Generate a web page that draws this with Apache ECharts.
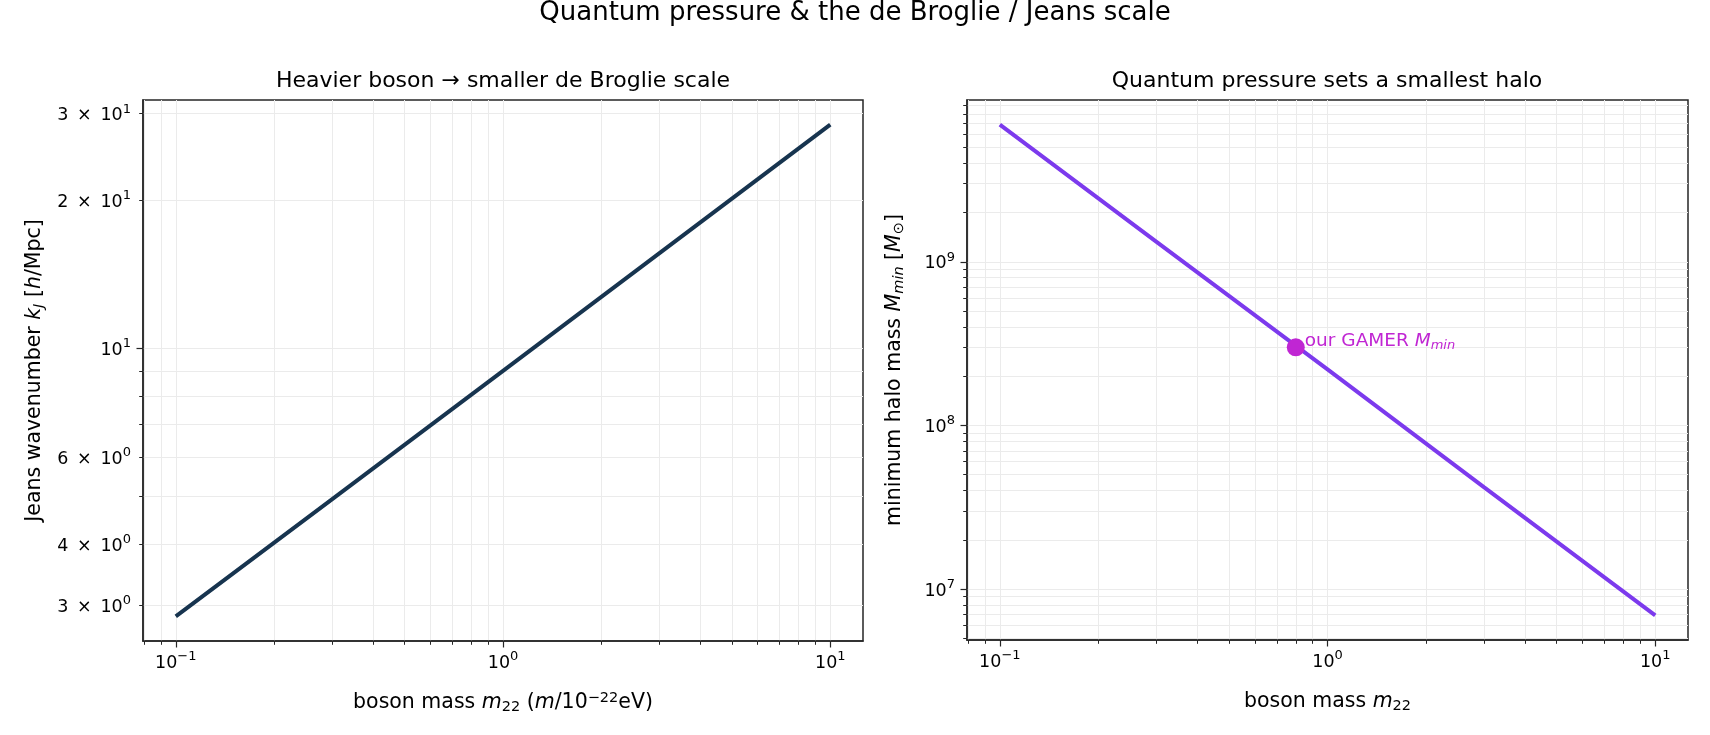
<!DOCTYPE html>
<html>
<head>
<meta charset="utf-8">
<script src="https://cdn.jsdelivr.net/npm/echarts@6/dist/echarts.min.js"></script>
<style>
html, body { margin: 0; padding: 0; background: #fff; }
#main { width: 1710px; height: 735px; }
</style>
</head>
<body>
<div id="main"></div>
<script>
// values
var massLeft = [0.1, 0.3, 1, 3, 10];
var kJeans = [2.85, 4.93, 9.0, 15.6, 28.5];
var massRight = [0.1, 0.3, 1, 3, 10];
var haloMin = [6.9e9, 1.33e9, 2.2e8, 4.2e7, 6.9e6];
var gamerPoint = [0.8, 3.0e8];

// ticks
var xMajor = [0.1, 1, 10];
var xMinor = [0.08, 0.09, 0.2, 0.3, 0.4, 0.5, 0.6, 0.7, 0.8, 0.9, 2, 3, 4, 5, 6, 7, 8, 9];
var kMajor = [10];
var kMinor = [3, 4, 5, 6, 7, 8, 9, 20, 30];
var kLabels = [3, 4, 6, 10, 20, 30];
var haloMajor = [1e7, 1e8, 1e9];
var haloMinor = [5e6, 6e6, 7e6, 8e6, 9e6, 2e7, 3e7, 4e7, 5e7, 6e7, 7e7, 8e7, 9e7,
  2e8, 3e8, 4e8, 5e8, 6e8, 7e8, 8e8, 9e8, 2e9, 3e9, 4e9, 5e9, 6e9, 7e9, 8e9, 9e9];

var FONT = 'DejaVu Sans';
var INK = '#262626';
var GRIDC = '#ebebeb';

var dom = document.getElementById('main');
var myChart = echarts.init(dom);

function expo(e) {
  return e < 0 ? '\u2212' + (-e) : '' + e;
}
function logLabel(v) {
  var e = Math.floor(Math.log10(v) + 1e-9);
  var m = Math.round(v / Math.pow(10, e));
  if (m === 1) return '{b|10}{s|' + expo(e) + '}';
  return '{b|' + m + '\u2002\u00d7\u200210}{s|' + expo(e) + '}';
}

var tickRich = {
  b: { fontFamily: FONT, fontSize: 17.5, color: '#000', lineHeight: 22, verticalAlign: 'bottom' },
  s: { fontFamily: FONT, fontSize: 13, color: '#000', lineHeight: 22, verticalAlign: 'top', padding: [0, 0, 6, 0] }
};
var nameRich = {
  n: { fontFamily: FONT, fontSize: 20.5, color: '#000' },
  i: { fontFamily: FONT, fontSize: 20.5, color: '#000', fontStyle: 'italic' },
  sub: { fontFamily: FONT, fontSize: 14.5, color: '#000', fontStyle: 'italic', verticalAlign: 'bottom', padding: [9, 0, 0, 0] },
  subn: { fontFamily: FONT, fontSize: 14.5, color: '#000', verticalAlign: 'bottom', padding: [9, 0, 0, 0] },
  sup: { fontFamily: FONT, fontSize: 14.5, color: '#000', verticalAlign: 'top', padding: [0, 0, 9, 0] }
};

function majorAxis(grid, min, max, major, labels, name, gap, isY) {
  return {
    type: 'log', logBase: 10, gridIndex: grid, min: min, max: max,
    position: isY ? 'left' : 'bottom',
    name: name, nameLocation: 'middle', nameGap: gap, nameRotate: isY ? 90 : 0,
    nameTextStyle: { rich: nameRich },
    axisLine: { show: true, onZero: false, lineStyle: { color: INK, width: 1.5 } },
    axisTick: { show: true, length: 6.5, customValues: major, lineStyle: { color: INK, width: 1.2 } },
    axisLabel: { show: true, customValues: labels, margin: isY ? 12 : 9, formatter: logLabel, rich: tickRich },
    splitLine: { show: true, lineStyle: { color: GRIDC, width: 1 } },
    minorTick: { show: false },
    minorSplitLine: { show: false }
  };
}
function minorAxis(grid, min, max, minor, isY) {
  return {
    type: 'log', logBase: 10, gridIndex: grid, min: min, max: max,
    position: isY ? 'left' : 'bottom',
    axisLine: { show: false },
    axisTick: { show: true, length: 3.8, customValues: minor, lineStyle: { color: INK, width: 1 } },
    axisLabel: { show: false },
    splitLine: { show: true, lineStyle: { color: GRIDC, width: 1 } }
  };
}

var xMinL = 0.0794, xMaxL = 12.59;
var kMin = 2.54, kMax = 31.98;
var hMin = 4.88e6, hMax = 9.75e9;

var option = {
  animation: false,
  title: [{
    text: 'Quantum pressure & the de Broglie / Jeans scale',
    left: 855, top: 0, textAlign: 'center', padding: 0,
    textStyle: { fontFamily: FONT, fontSize: 26, fontWeight: 'normal', color: '#000' }
  }, {
    text: 'Heavier boson \u2192 smaller de Broglie scale',
    left: 503, top: 70, textAlign: 'center', padding: 0,
    textStyle: { fontFamily: FONT, fontSize: 22, fontWeight: 'normal', color: '#000' }
  }, {
    text: 'Quantum pressure sets a smallest halo',
    left: 1327, top: 70, textAlign: 'center', padding: 0,
    textStyle: { fontFamily: FONT, fontSize: 22, fontWeight: 'normal', color: '#000' }
  }],
  grid: [
    { left: 143, top: 100, width: 720, height: 541, show: true, borderColor: INK, borderWidth: 1.5, outerBoundsMode: 'none' },
    { left: 967, top: 100, width: 721, height: 540, show: true, borderColor: INK, borderWidth: 1.5, outerBoundsMode: 'none' }
  ],
  xAxis: [
    majorAxis(0, xMinL, xMaxL, xMajor, xMajor,
      '{n|boson mass }{i|m}{subn|22}{n| (}{i|m}{n|/10}{sup|\u221222}{n|eV)}', 50, false),
    minorAxis(0, xMinL, xMaxL, xMinor, false),
    majorAxis(1, xMinL, xMaxL, xMajor, xMajor,
      '{n|boson mass }{i|m}{subn|22}', 50, false),
    minorAxis(1, xMinL, xMaxL, xMinor, false)
  ],
  yAxis: [
    majorAxis(0, kMin, kMax, kMajor, kLabels,
      '{n|Jeans wavenumber }{i|k}{sub|J}{n| [}{i|h}{n|/Mpc]}', 96, true),
    minorAxis(0, kMin, kMax, kMinor, true),
    majorAxis(1, hMin, hMax, haloMajor, haloMajor,
      '{n|minimum halo mass }{i|M}{sub|min}{n| [}{i|M}{subn|\u2299}{n|]}', 60, true),
    minorAxis(1, hMin, hMax, haloMinor, true)
  ],
  series: [{
    type: 'line', xAxisIndex: 0, yAxisIndex: 0,
    data: massLeft.map(function (m, i) { return [m, kJeans[i]]; }),
    showSymbol: false, symbol: 'none',
    lineStyle: { color: '#17344f', width: 4 }
  }, {
    type: 'line', xAxisIndex: 2, yAxisIndex: 2,
    data: massRight.map(function (m, i) { return [m, haloMin[i]]; }),
    showSymbol: false, symbol: 'none',
    lineStyle: { color: '#7c3aed', width: 4 }
  }, {
    type: 'scatter', xAxisIndex: 2, yAxisIndex: 2,
    data: [gamerPoint],
    symbolSize: 18, z: 5,
    itemStyle: { color: '#c026d3', opacity: 1 },
    label: {
      show: true, position: 'right', distance: 0, offset: [0, -6],
      formatter: '{n|our GAMER }{i|M}{sub|min}',
      rich: {
        n: { fontFamily: FONT, fontSize: 18.5, color: '#c026d3' },
        i: { fontFamily: FONT, fontSize: 18.5, color: '#c026d3', fontStyle: 'italic' },
        sub: { fontFamily: FONT, fontSize: 13, color: '#c026d3', fontStyle: 'italic', verticalAlign: 'bottom', padding: [8, 0, 0, 0] }
      }
    }
  }]
};

if (option && typeof option === 'object') {
  myChart.setOption(option, true);
}
</script>
</body>
</html>
